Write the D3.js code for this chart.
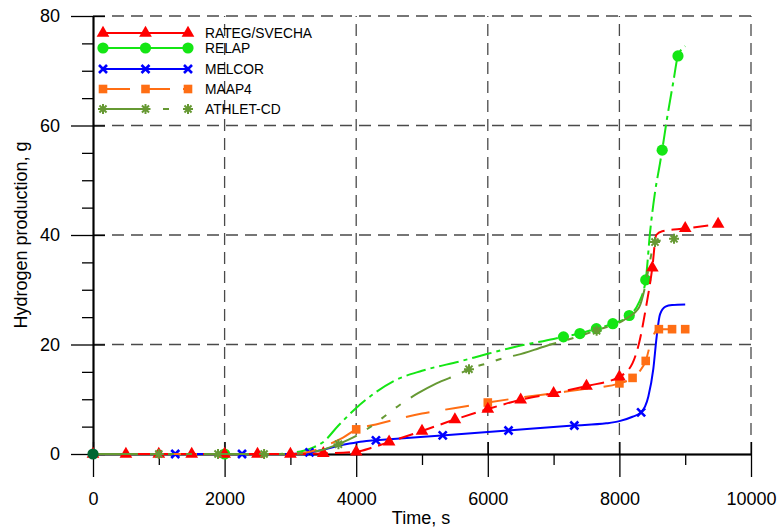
<!DOCTYPE html>
<html><head><meta charset="utf-8">
<script src="https://cdn.jsdelivr.net/npm/d3@7"></script>
<style>
body{margin:0;background:#fff}
svg{display:block}
text{font-family:"Liberation Sans",Arial,sans-serif;fill:#000}
</style>
</head><body>
<svg id="c" width="778" height="529"></svg>
<script>
// ---------- data ----------
const xTickValues = [0, 2000, 4000, 6000, 8000, 10000];
const xMinorValues = [1000, 3000, 5000, 7000, 9000];
const yTickValues = [0, 20, 40, 60, 80];
const yMinorValues = [5, 10, 15, 25, 30, 35, 45, 50, 55, 65, 70, 75];
const seriesNames = ["RATEG/SVECHA", "RELAP", "MELCOR", "MAAP4", "ATHLET-CD"];

const ratTime  = [0,500,1000,1500,2000,2500,3000,3500,4000,4250,4500,5000,5500,6000,6500,7000,7500,8000,8200,8300,8400,8500,8560,8650,9000,9500];
const ratValue = [0,0,0,0,0,0,0,0.1,0.4,1.2,2.2,4.2,6.3,8.2,9.9,11.1,12.4,14.1,16.6,20.3,26.5,34.0,40.0,40.7,41.2,42.0];
const ratMarkTime  = [0,500,1000,1500,2000,2500,3000,3500,4000,4500,5000,5500,6000,6500,7000,7500,8000,8500,9000,9500];
const ratMarkValue = [0,0,0,0,0,0,0,0.1,0.4,2.2,4.2,6.3,8.2,9.9,11.1,12.4,14.1,34.0,41.2,42.0];

const relTime  = [0,2000,2800,3000,3200,3350,3500,3730,4000,4300,4600,5000,5600,6000,6500,7000,7150,7400,7650,7900,8150,8290,8400,8465,8540,8617,8650,8720,8820,8890,9000];
const relValue = [0,0,0,0.2,0.6,1.2,2.2,5.2,8.4,11.3,13.5,15.2,17.0,18.3,19.8,21.0,21.4,22.0,22.9,23.8,25.3,27.5,31.8,40.4,47.7,53.1,55.5,61,68,72.7,74.5];
const relMarkTime  = [2000,7150,7400,7650,7900,8150,8400,8650,8890];
const relMarkValue = [0,21.4,22.0,22.9,23.8,25.3,31.8,55.5,72.7];

const melTime  = [0,3000,3300,3500,3700,3900,4100,4300,5300,6300,7300,7800,8000,8200,8330,8440,8515,8566,8617,8700,8800,9000];
const melValue = [0,0,0.3,0.8,1.4,1.9,2.3,2.5,3.4,4.3,5.2,5.6,6.0,6.8,7.6,10.5,15.5,21.4,25.5,26.9,27.2,27.3];
const melMarkTime  = [1250,2265,3290,4300,5315,6315,7315,8330];
const melMarkValue = [0,0,0.3,2.5,3.4,4.3,5.2,7.6];

const maaTime  = [0,3000,3300,3550,3800,4000,4300,4600,5000,5300,5600,6000,6500,7000,7500,8000,8200,8300,8400,8480,8550,8600,9000];
const maaValue = [0,0,0.4,1.6,3.0,4.5,5.4,6.3,7.4,8.0,8.6,9.4,10.3,11.1,11.9,12.9,13.9,15.0,17.0,20.5,22.4,22.8,22.8];
const maaMarkTime  = [4000,6000,8000,8200,8400,8600,8800,9000];
const maaMarkValue = [4.5,9.4,12.9,13.9,17.0,22.8,22.8,22.8];

const athTime  = [0,3000,3300,3500,3730,4000,4185,4400,4665,4940,5220,5580,5714,6000,6300,6450,6850,7300,7650,8110,8300,8380,8440,8540,8830];
const athValue = [0,0,0.3,0.8,1.8,3.3,4.7,6.6,9.0,11.1,12.9,14.7,15.5,16.6,17.7,18.1,19.6,21.2,22.6,24.8,26.8,30.0,33.6,38.7,39.3];
const athMarkTime  = [1000,1900,2600,3730,5714,7654,8541,8830];
const athMarkValue = [0,0,0,1.8,15.5,22.5,38.7,39.3];

const originMarkTime = [0];
const originMarkValue = [0];

// ---------- layout ----------
const svg = d3.select("#c");
const L = 93, R = 751, T = 16, B = 454;
const x = d3.scaleLinear().domain([0, 10000]).range([L, R]);
const y = d3.scaleLinear().domain([0, 80]).range([B, T]);

const zip = (a, b) => a.map((t, i) => ({t, v: b[i]}));

// grid
const grid = svg.append("g").attr("stroke", "#4a4a4a").attr("stroke-width", 1.3).attr("stroke-dasharray", "12,7");
grid.selectAll("line.gx").data(xTickValues.filter(d => d > 0)).join("line")
  .attr("x1", d => x(d)).attr("x2", d => x(d)).attr("y1", B).attr("y2", T);
grid.selectAll("line.gy").data(yTickValues.filter(d => d > 0)).join("line")
  .attr("y1", d => y(d)).attr("y2", d => y(d)).attr("x1", L).attr("x2", R);

// axes
function styleAxis(g) {
  g.selectAll("path.domain").attr("stroke", "#000").attr("stroke-width", 1.5);
  g.selectAll(".tick line").attr("stroke", "#000").attr("stroke-width", 1.3);
  g.selectAll("text").attr("font-size", 18).attr("fill", "#000").style("font-family", '"Liberation Sans",Arial,sans-serif');
}
const xAx = svg.append("g").attr("transform", `translate(0,${B})`)
  .call(d3.axisBottom(x).tickValues(xTickValues).tickSize(23).tickSizeOuter(0).tickPadding(15).tickFormat(d3.format("d")));
styleAxis(xAx);
const xAxIn = svg.append("g").attr("transform", `translate(0,${B})`)
  .call(d3.axisTop(x).tickValues(xTickValues).tickSize(12).tickSizeOuter(0).tickFormat(""));
styleAxis(xAxIn);
const xAxMin = svg.append("g").attr("transform", `translate(0,${B})`)
  .call(d3.axisBottom(x).tickValues(xMinorValues).tickSize(11).tickSizeOuter(0).tickFormat(""));
styleAxis(xAxMin);

const yAx = svg.append("g").attr("transform", `translate(${L},0)`)
  .call(d3.axisLeft(y).tickValues(yTickValues).tickSize(22).tickSizeOuter(0).tickPadding(11));
styleAxis(yAx);
const yAxIn = svg.append("g").attr("transform", `translate(${L},0)`)
  .call(d3.axisRight(y).tickValues(yTickValues).tickSize(12).tickSizeOuter(0).tickFormat(""));
styleAxis(yAxIn);
const yAxMin = svg.append("g").attr("transform", `translate(${L},0)`)
  .call(d3.axisLeft(y).tickValues(yMinorValues).tickSize(11).tickSizeOuter(0).tickFormat(""));
styleAxis(yAxMin);

// titles
svg.append("text").attr("x", 421).attr("y", 524).attr("text-anchor", "middle").attr("font-size", 18).text("Time, s");
svg.append("text").attr("transform", `translate(27,${(T + B) / 2}) rotate(-90)`).attr("text-anchor", "middle").attr("font-size", 18).text("Hydrogen production, g");

// markers
function drawMarker(g, shape, color, cx, cy) {
  if (shape === "tri") {
    g.append("path").attr("d", d3.symbol(d3.symbolTriangle, 70)()).attr("transform", `translate(${cx},${cy})`).attr("fill", color);
  } else if (shape === "circle") {
    g.append("circle").attr("cx", cx).attr("cy", cy).attr("r", 5.6).attr("fill", color);
  } else if (shape === "x") {
    g.append("path").attr("d", "M-4,-4L4,4M-4,4L4,-4").attr("transform", `translate(${cx},${cy})`)
      .attr("stroke", color).attr("stroke-width", 2.6).attr("fill", "none");
  } else if (shape === "square") {
    g.append("rect").attr("x", cx - 4.3).attr("y", cy - 4.3).attr("width", 8.6).attr("height", 8.6).attr("fill", color);
  } else if (shape === "star") {
    const r = 5, s = r * Math.SQRT1_2;
    g.append("path").attr("d", `M${-r},0L${r},0M0,${-r}L0,${r}M${-s},${-s}L${s},${s}M${-s},${s}L${s},${-s}`)
      .attr("transform", `translate(${cx},${cy})`).attr("stroke", color).attr("stroke-width", 2).attr("fill", "none");
  }
}

const series = [
  {name: seriesNames[1], time: relTime, value: relValue, mt: relMarkTime, mv: relMarkValue, color: "#14e614", shape: "circle", dash: "20,5,4,5", legDash: null, legY: 48},
  {name: seriesNames[2], time: melTime, value: melValue, mt: melMarkTime, mv: melMarkValue, color: "#0000ff", shape: "x", dash: null, legDash: null, legY: 69},
  {name: seriesNames[3], time: maaTime, value: maaValue, mt: maaMarkTime, mv: maaMarkValue, color: "#ff6e14", shape: "square", dash: "24,16", legDash: "27,13", legY: 89},
  {name: seriesNames[0], time: ratTime, value: ratValue, mt: ratMarkTime, mv: ratMarkValue, color: "#ff0000", shape: "tri", dash: "15,7", legDash: null, legY: 33},
  {name: seriesNames[4], time: athTime, value: athValue, mt: athMarkTime, mv: athMarkValue, color: "#669933", shape: "star", dash: "45,12,6,12,6,12,6,12", legDash: "42,18,6,19", legY: 109},
];

const line = d3.line().x(d => x(d.t)).y(d => y(d.v)).curve(d3.curveMonotoneX);

series.forEach(s => {
  const g = svg.append("g");
  g.append("path").datum(zip(s.time, s.value)).attr("d", line)
    .attr("fill", "none").attr("stroke", s.color).attr("stroke-width", 2)
    .attr("stroke-dasharray", s.dash);
  zip(s.mt, s.mv).forEach(p => drawMarker(g, s.shape, s.color, x(p.t), y(p.v)));
});

// origin marker
const og = svg.append("g");
zip(originMarkTime, originMarkValue).forEach(p => drawMarker(og, "circle", "#006633", x(p.t), y(p.v)));

// legend
const lg = svg.append("g");
const legOrder = [3, 0, 1, 2, 4];
legOrder.forEach(i => {
  const s = series[i];
  lg.append("line").attr("x1", 103).attr("x2", 188).attr("y1", s.legY).attr("y2", s.legY)
    .attr("stroke", s.color).attr("stroke-width", 2).attr("stroke-dasharray", s.legDash);
  [103, 145.5, 188].forEach(px => drawMarker(lg, s.shape, s.color, px, s.legY));
  lg.append("text").attr("x", 205).attr("y", s.legY).attr("dy", "0.35em").attr("font-size", 13.8).text(s.name);
});
</script>
</body></html>
